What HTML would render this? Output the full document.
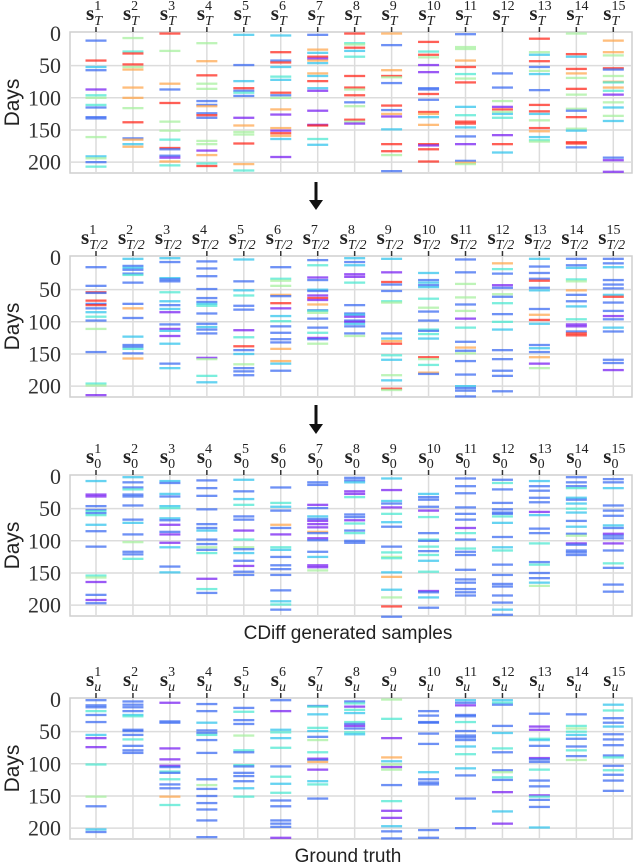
<!DOCTYPE html>
<html><head><meta charset="utf-8"><style>
html,body{margin:0;padding:0;background:#fff;}
svg{display:block;}
</style></head><body>
<svg id="chart" width="640" height="862" viewBox="0 0 640 862" xmlns="http://www.w3.org/2000/svg">
</svg>
<script>
// ---- data (day + colour code: p purple, b blue, c cyan, g green, o orange, r red) ----
const panelTops = [32, 256, 475, 698];
const yTicks = [0, 50, 100, 150, 200];
const columnIndices = [1,2,3,4,5,6,7,8,9,10,11,12,13,14,15];
const panelSubscripts = ["T", "T/2", "0", "u"];
const panelCaptions = ["", "", "CDiff generated samples", "Ground truth"];

const panel1Events = [
"11b 42r 52c 57b 87p 96c 100g 111c 115b 130b 132b 161g 191c 194g 200b 207c",
"7g 28c 31r 48r 52g 56o 84o 100o 116g 138r 163b 165o 172c 176o",
"0r 27g 78o 87b 108r 137g 151g 165c 178r 180b 190b 193p 199o 205c",
"15g 43o 65r 78g 86g 105b 111b 113o 124b 127r 131b 167g 172g 182p 189o 202c 206r",
"2c 49b 74c 85r 89b 92c 97b 131p 143o 153g 157g 171r 203o 213c",
"3c 29r 42b 45r 52c 67c 72c 92r 96b 100g 118o 126p 147o 151p 155r 159o 164c 192p",
"2b 25o 30c 36r 39p 42o 46c 62o 66c 74r 85c 89p 120p 142p 143r 164c 173c",
"0r 15c 17g 22r 27c 36c 66r 84r 87g 96r 107b 113g 134r 137g 140p",
"0o 18b 57o 66r 68g 77b 112r 119b 125o 129p 149c 172r 183r 189g 214b",
"13r 28c 33r 37g 49p 60p 85b 87b 94r 103b 122r 125o 130c 142o 172r 174p 180r 199r",
"1b 21g 24g 42o 52r 63c 70g 76r 114c 127c 137r 140r 146c 160b 172p 198b 201o 203g",
"62b 84b 105g 114p 118r 122g 125c 131c 158p 172r 185c",
"8r 29g 33c 43r 52b 58g 63c 88b 111r 121r 125c 135g 147r 152o 161c 166c 168g",
"0g 32r 36c 55r 62o 69g 86r 95g 117g 120b 130r 148g 151c 169r 171r 177b",
"11o 29o 34g 54r 56b 66g 75o 76c 84o 89c 95p 107g 115c 128g 136c 193b 197p 215p"
];
const panel2Events = [
"15b 44b 54r 55b 67r 72b 74r 79b 85c 92c 98b 111g 147b 196c 199g 214p",
"2c 13b 16c 19b 25b 27c 39b 72b 79o 94b 123c 136b 139b 142c 149b 157o",
"1c 7b 32c 34b 37b 54c 68c 74b 80c 85p 104b 111p 114c 122p 134c 165b 172c",
"6b 17b 29b 49b 63b 69b 72c 75c 87b 103b 108c 112b 118b 156p 158g 184c 194c",
"3c 37b 51c 59c 75b 81b 113p 124c 138r 144b 150c 166g 172b 177b 183b",
"15b 33c 36g 44g 58o 60b 71r 79p 91c 99c 107b 117b 127b 132b 142o 161o 165c 176b",
"4b 12c 31p 35b 50c 52b 59p 63r 66p 73o 82b 83c 86g 95b 109b 117c 125p 127b 134g",
"1c 7b 12c 26p 30p 39c 74b 87b 89c 92p 98b 100p 103c 107b 118b 122g",
"2c 23p 38r 42b 52b 68c 70g 118b 126c 130o 134r 152c 159c 183g 191c 204r 206g",
"24c 35b 39c 43b 46c 64c 78g 84b 98b 112c 114b 119c 126c 155r 158g 167c 179o 181b",
"3b 23b 41g 62g 73b 83g 95p 109c 131b 140o 145b 149g 161b 182b 200c 203b 207b 216b",
"9o 18c 25b 43p 47b 57g 61b 71c 88b 100c 112c 144b 158b 176b 184b 208b",
"2c 14b 24b 33b 36r 47b 51c 80b 89o 97r 103c 136b 141c 147b 155o 165p 172g",
"2b 12b 16c 34c 37g 51o 58b 68b 76c 96c 104p 107p 115b 118r 121r",
"2b 9b 15c 35b 42b 48b 58c 61r 70b 83b 91p 96b 109c 115b 159b 164b 175p"
];
const panel3Events = [
"7c 28p 31p 46b 52b 54c 57b 60c 75c 85b 109b 154c 157g 164p 184b 192p 197b",
"1c 9b 17b 20c 28b 31b 45b 67b 72c 90b 102g 117b 121b 128c",
"7c 10b 27c 31b 46c 49c 65c 68b 75p 86b 90p 103p 110c 140b 149c",
"6b 18b 30b 51b 74b 80b 84c 98b 105b 110g 114b 119c 159p 175c 181b",
"5c 23b 35c 44c 62b 67b 84p 98c 110g 113b 119c 131b 139p 148b 153b",
"17b 41c 47c 53b 75o 80b 90p 110c 114c 125b 138b 144b 153b 177b 194c 199c 207b",
"9b 13b 44p 49b 62c 66b 69p 74p 79p 86o 88b 96p 99b 117b 125c 138p 141p 146g",
"2b 6b 9c 23p 27p 32c 59b 63b 68p 73c 84b 88c 100b 103b",
"3c 21p 38c 42b 48p 58c 71c 78b 109b 118c 125g 127c 149c 156o 176c 188g 202r 218b",
"27c 32b 36b 47b 53p 63c 88b 98c 100b 109c 116b 122c 131c 148c 178p 180b 188c 204b",
"3b 15b 26b 48b 58b 67b 80p 88c 98b 112c 117b 122b 145b 160b 165b 175b 180b 185b",
"5b 10c 20b 41b 51b 56b 58b 62c 72c 94b 110c 115c 137b 153b 167b 171b 185b 196b 207c 215b",
"7c 15b 22b 33b 40b 55p 60c 81b 88b 104c 133b 137c 150b 158b 165c 170g",
"1b 9b 15b 18c 33c 36b 42c 50c 56c 69b 78c 89b 92g 104p 106b 115b 118b 122b",
"4b 9b 18c 45b 53b 61b 76c 80b 89p 92b 96b 104p 115b 135c 142b 168b 179b"
];
const panel4Events = [
"1b 9b 12b 18c 24b 35b 55c 60p 74p 101c 151g 166b 202c 206b",
"3b 8b 12b 18b 24c 26c 47b 49b 55b 62c 72b 79b 83b",
"5p 34b 36b 76p 93p 103p 105b 112c 114b 124c 132b 138b 151o 164c",
"7b 18b 36c 48b 52b 55c 63b 83b 124b 133g 139b 150b 161b 171b 188b 214b",
"13b 19c 32b 38b 56g 79c 82b 102c 104b 114b 119b 127b 138c 151c",
"1b 18p 47c 51c 60c 75c 104b 120c 131c 145c 157b 166b 188b 193b 198b 215p",
"10b 11c 23c 44c 49c 58b 63g 82c 92p 94b 97o 109p 127c 132c 154b",
"3b 6c 11p 16c 21c 35c 38b 41p 45b 51c 54c",
"0g 30c 60p 90o 96c 101g 105p 109g 133b 158c 173p 184p 197c 205b 216b",
"18b 25b 35b 36b 53b 69b 113c 124b 129b 132b 203b 215b",
"1c 5b 9p 24b 26b 35c 49b 56b 59b 63b 73c 85c 107c 118b 154b 200b",
"1c 5c 8b 41b 52c 76c 82b 110b 113g 121c 125b 144p 174c 193p",
"22b 42p 47p 61c 63c 72b 91p 93b 97b 109c 126b 135b 149p 151c 156b 167b 199c",
"23b 41c 45g 50c 55c 61b 73b 79c 88b 94g",
"8c 17c 29b 36b 42c 54b 62b 71b 87b 90c 103b 110c 117b 126b 142b"
];
const allPanels = [panel1Events, panel2Events, panel3Events, panel4Events];

// ---- layout ----
const NS = "http://www.w3.org/2000/svg";
const svg = document.getElementById("chart");
const plotLeft = 70, plotRight = 632, plotHeight = 141;
const colorMap = {p:"#7a22f2", b:"#3d6cf2", c:"#33c4ec", g:"#a8f0a0", o:"#ffa850", r:"#ff2a1e"};
const colorAlt = {c:"#4fe8d2"};
function xScale(i){ return 96 + i*36.95; }
function yScale(top, d){ return top + 1.5 + d*0.643; }
function mk(tag, attrs, parent){
  const e = document.createElementNS(NS, tag);
  for (const k in attrs) e.setAttribute(k, attrs[k]);
  (parent||svg).appendChild(e);
  return e;
}

allPanels.forEach((events, p) => {
  const top = panelTops[p];
  const g = mk("g", {});
  
  
  const frame = mk("rect", {x:plotLeft, y:top, width:plotRight-plotLeft, height:plotHeight, fill:"#fff", stroke:"#cfcfcf", "stroke-width":1.5}, g);
  
  
  yTicks.forEach(t => {
    const y = yScale(top, t);
    if (t > 0) {
      const gl = mk("line", {x1:plotLeft, x2:plotRight, y1:y, y2:y, stroke:"#dcdcdc", "stroke-width":1.5}, g);
      
      
    }
    const tl = mk("text", {x:61, y:y+7.5, "text-anchor":"end", "font-family":"Liberation Serif, serif", "font-size":22, fill:"#333"}, g);
    tl.textContent = t;
    
    
  });
  const yt = mk("text", {x:0, y:0, transform:`translate(19,${top+plotHeight/2}) rotate(-90)`, "text-anchor":"middle", "font-family":"Liberation Sans, DejaVu Sans, sans-serif", "font-size":21, fill:"#222"}, g);
  yt.textContent = "Days";
  
  
  columnIndices.forEach((ci, i) => {
    const x = xScale(i);
    const vl = mk("line", {x1:x, x2:x, y1:top, y2:top+plotHeight, stroke:"#dcdcdc", "stroke-width":1.5}, g);
    
    
    const tk = mk("line", {x1:x, x2:x, y1:top-5, y2:top, stroke:"#333", "stroke-width":1.5}, g);
    
    
    const sub = panelSubscripts[p];
    const lbl = mk("text", {x: sub==="T/2" ? x-15 : x-10, y:top-12, "font-family":"Liberation Serif, serif", fill:"#222"}, g);
    
    
    const s = mk("tspan", {"font-size":21, "font-weight":"bold"}, lbl); s.textContent = "s";
    const sup = mk("tspan", {"font-size":14, dy:-10}, lbl); sup.textContent = ci;
    const subEl = mk("tspan", {"font-size":14, "font-style":(sub==="0"?"normal":"italic"), dy:15, dx: -(String(ci).length*7)}, lbl); subEl.textContent = sub;
    const list = events[i].trim().split(/\s+/);
    list.forEach((tok, k) => {
      const d = parseFloat(tok);
      const c = tok.slice(-1);
      const y = yScale(top, d);
      const col = (c === "c" && (k % 2 === 1)) ? colorAlt.c : colorMap[c];
      const ev = mk("rect", {x:x-10.5, y:y-1.1, width:21, height:2.3, fill:col, opacity:0.75}, g);
      
      
    });
  });
  if (panelCaptions[p]) {
    const cap = mk("text", {x:348, y:top+plotHeight+23, "text-anchor":"middle", "font-family":"Liberation Sans, DejaVu Sans, sans-serif", "font-size":19, fill:"#222"}, g);
    cap.textContent = panelCaptions[p];
    
    
  }
});

[[182, 210], [405, 434]].forEach(([y1, y2]) => {
  const a = mk("g", {});
  
  
  mk("line", {x1:316, x2:316, y1:y1, y2:y2-8, stroke:"#111", "stroke-width":3}, a);
  mk("polygon", {points:`309,${y2-10} 323,${y2-10} 316,${y2}`, fill:"#111"}, a);
});
</script>
</body></html>
